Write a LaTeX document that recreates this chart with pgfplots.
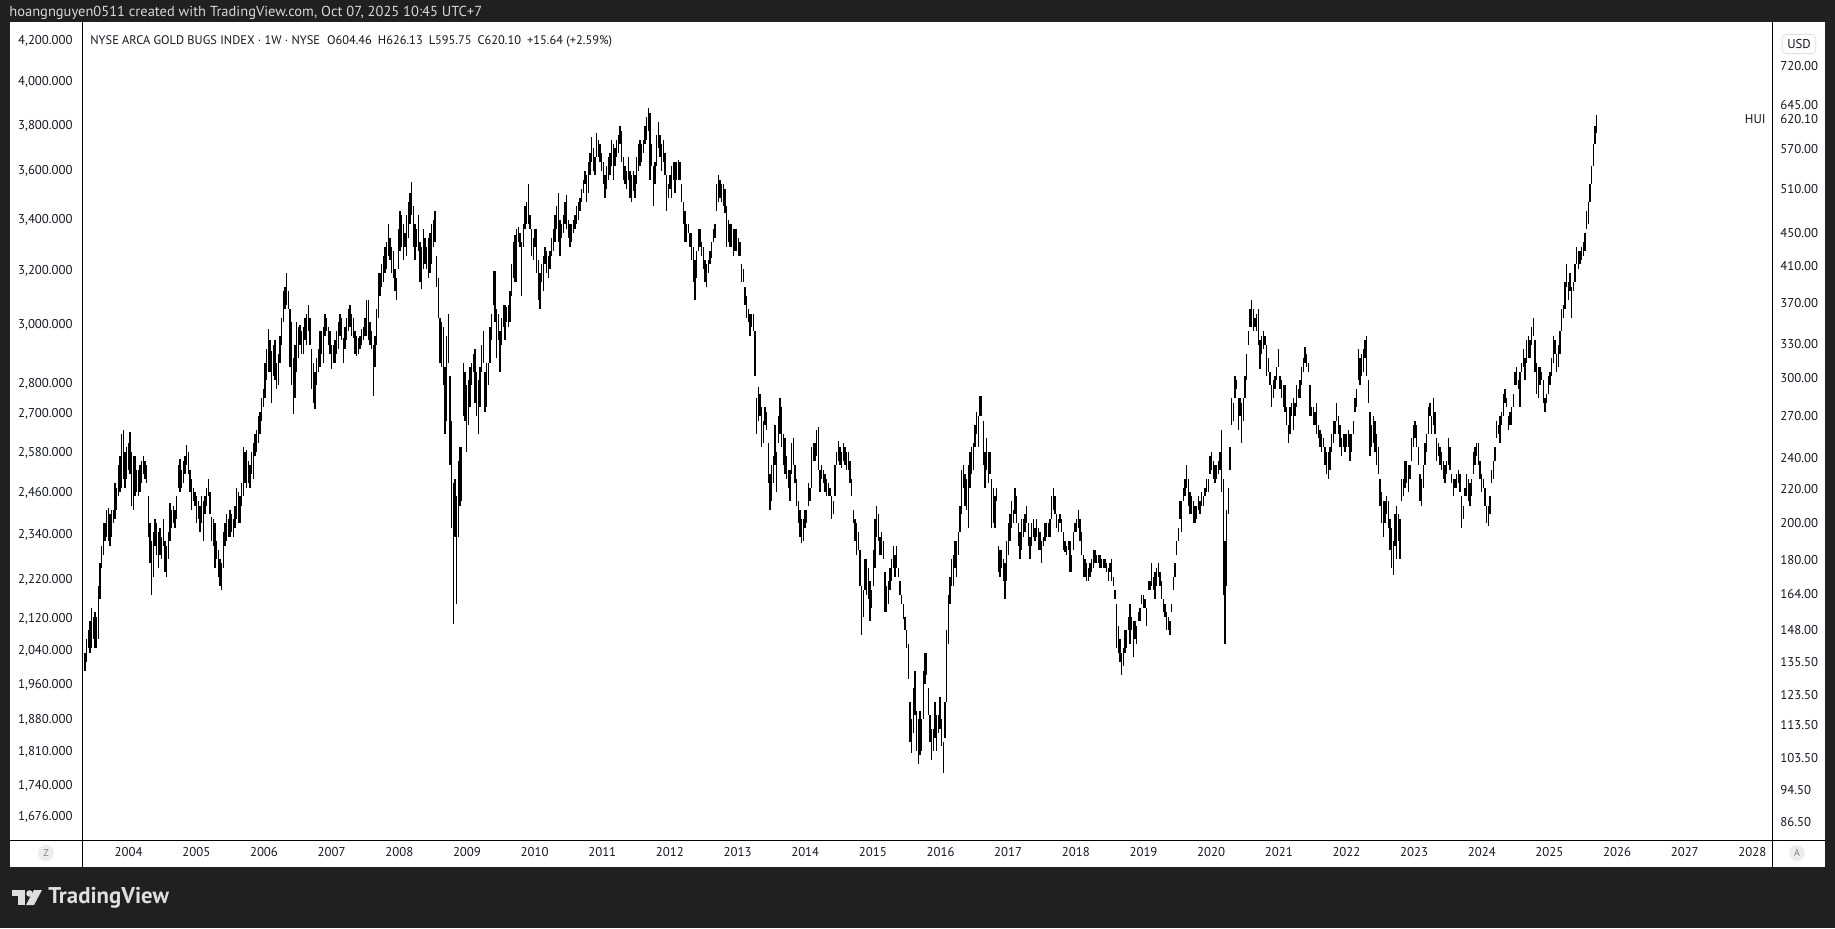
\documentclass[border=0pt]{standalone}
\usepackage{pgfplots}
\usepackage{pgfplotstable}
\pgfplotsset{compat=1.18}
\usepackage{fontspec}
\setmainfont{PT Sans}
\definecolor{frame}{RGB}{32,32,32}
\definecolor{txt}{RGB}{19,23,34}
\definecolor{hdr}{RGB}{215,215,215}
\definecolor{logo}{RGB}{222,222,222}
\newcommand{\tvf}{\fontsize{6.4}{7.5}\selectfont}
\pgfplotstableread{
t lo hi
2003.318 120.4 135.6
2003.354 132.2 139.0
2003.379 135.6 144.3
2003.403 140.8 148.0
2003.428 139.0 151.7
2003.452 140.8 157.5
2003.477 144.3 153.6
2003.502 140.8 155.6
2003.526 140.8 153.6
2003.551 144.3 167.7
2003.576 161.5 178.5
2003.600 176.2 187.6
2003.625 183.0 199.7
2003.649 190.0 199.7
2003.674 192.4 207.3
2003.699 190.0 208.6
2003.723 187.6 204.8
2003.748 192.4 207.3
2003.773 199.7 207.3
2003.797 202.2 223.5
2003.822 207.3 220.7
2003.847 215.3 234.9
2003.871 218.0 240.9
2003.896 220.7 256.5
2003.920 226.3 259.7
2003.945 220.7 243.9
2003.970 226.3 247.1
2003.994 232.0 250.2
2004.019 229.1 258.1
2004.044 209.9 243.9
2004.068 207.3 240.9
2004.093 215.3 240.9
2004.117 218.0 232.0
2004.142 215.3 232.0
2004.167 218.0 234.9
2004.191 223.5 237.9
2004.216 229.1 240.9
2004.241 226.3 237.9
2004.265 223.5 234.9
2004.290 192.4 215.3
2004.315 178.5 199.7
2004.339 163.5 190.0
2004.364 171.9 194.8
2004.389 187.6 202.2
2004.413 183.0 199.7
2004.438 176.2 194.8
2004.463 183.0 197.2
2004.487 180.7 192.4
2004.512 187.6 202.2
2004.536 174.1 190.0
2004.561 171.9 187.6
2004.586 180.7 194.8
2004.610 190.0 211.3
2004.635 197.2 207.3
2004.660 199.7 209.9
2004.684 197.2 207.3
2004.709 202.2 215.3
2004.734 220.7 234.9
2004.758 218.0 239.4
2004.783 220.7 232.0
2004.807 223.5 237.9
2004.832 229.1 240.9
2004.857 234.9 248.6
2004.881 229.1 243.9
2004.906 218.0 232.0
2004.931 207.3 226.3
2004.955 212.6 220.7
2004.980 209.9 218.0
2005.004 199.7 215.3
2005.029 202.2 212.6
2005.054 194.8 209.9
2005.078 199.7 215.3
2005.103 190.0 212.6
2005.128 204.8 215.3
2005.152 209.9 220.7
2005.177 215.3 226.3
2005.202 204.8 218.0
2005.226 190.0 203.5
2005.251 187.6 202.2
2005.275 176.2 199.7
2005.300 180.7 190.0
2005.325 171.9 185.3
2005.349 167.7 180.7
2005.374 165.6 178.5
2005.399 176.2 194.8
2005.423 187.6 199.7
2005.448 190.0 204.8
2005.473 192.4 202.2
2005.497 192.4 207.3
2005.522 194.8 204.8
2005.546 192.4 202.2
2005.571 197.2 209.9
2005.596 202.2 220.7
2005.620 199.7 218.0
2005.645 199.7 215.3
2005.670 209.9 223.5
2005.694 215.3 247.1
2005.719 223.5 243.9
2005.744 220.7 245.5
2005.768 223.5 237.9
2005.793 220.7 234.9
2005.817 229.1 243.9
2005.842 226.3 250.2
2005.867 240.9 256.5
2005.891 243.9 259.7
2005.916 250.2 269.7
2005.941 256.5 273.0
2005.965 266.3 283.5
2005.990 276.5 290.6
2006.014 283.5 313.3
2006.039 298.0 325.2
2006.064 305.5 344.1
2006.088 305.5 333.5
2006.113 279.9 323.2
2006.138 301.7 329.3
2006.162 298.0 333.5
2006.187 290.6 313.3
2006.212 294.3 321.2
2006.236 313.3 337.7
2006.261 329.3 355.0
2006.285 350.6 382.6
2006.310 364.0 387.4
2006.335 368.5 402.2
2006.359 364.0 382.6
2006.384 309.4 364.0
2006.409 294.3 350.6
2006.433 271.3 317.2
2006.458 283.5 329.3
2006.483 305.5 350.6
2006.507 317.2 346.2
2006.532 329.3 348.4
2006.556 321.2 341.9
2006.581 321.2 346.2
2006.606 333.5 355.0
2006.630 329.3 359.4
2006.655 341.9 368.5
2006.680 329.3 355.0
2006.704 290.6 325.2
2006.729 279.9 313.3
2006.754 274.7 305.5
2006.778 294.3 317.2
2006.803 305.5 325.2
2006.827 309.4 341.9
2006.852 321.2 341.9
2006.877 313.3 346.2
2006.901 337.7 359.4
2006.926 341.9 355.0
2006.951 329.3 346.2
2006.975 321.2 341.9
2007.000 307.5 329.3
2007.024 313.3 329.3
2007.049 313.3 333.5
2007.074 321.2 341.9
2007.098 325.2 350.6
2007.123 337.7 359.4
2007.148 333.5 355.0
2007.172 313.3 335.6
2007.197 325.2 346.2
2007.222 333.5 355.0
2007.246 341.9 364.0
2007.271 346.2 368.5
2007.296 337.7 359.4
2007.320 335.6 355.0
2007.345 321.2 341.9
2007.369 319.2 337.7
2007.394 321.2 335.6
2007.419 325.2 337.7
2007.443 329.3 344.1
2007.468 333.5 346.2
2007.493 337.7 355.0
2007.517 337.7 373.2
2007.542 333.5 373.2
2007.567 329.3 350.6
2007.591 325.2 341.9
2007.616 285.2 329.3
2007.640 309.4 337.7
2007.665 329.3 364.0
2007.690 355.0 402.2
2007.714 377.9 402.2
2007.739 387.4 412.4
2007.764 392.3 422.8
2007.788 402.2 433.5
2007.813 407.3 439.0
2007.838 422.8 461.5
2007.862 417.6 444.5
2007.887 402.2 433.5
2007.911 397.2 428.2
2007.936 382.6 407.3
2007.961 373.2 397.2
2007.985 407.3 455.7
2008.010 428.2 479.1
2008.035 433.5 473.1
2008.059 417.6 461.5
2008.084 433.5 450.1
2008.109 422.8 473.1
2008.133 444.5 491.2
2008.158 461.5 503.6
2008.182 473.1 519.6
2008.207 433.5 485.1
2008.232 417.6 461.5
2008.256 433.5 455.7
2008.281 428.2 473.1
2008.306 392.3 439.0
2008.330 384.9 433.5
2008.355 407.3 455.7
2008.379 412.4 444.5
2008.404 407.3 433.5
2008.429 397.2 444.5
2008.453 402.2 450.1
2008.478 412.4 461.5
2008.503 433.5 467.3
2008.527 439.0 479.1
2008.552 387.4 422.8
2008.576 355.0 397.2
2008.601 313.3 355.0
2008.626 309.4 350.6
2008.650 294.3 346.2
2008.675 256.5 309.4
2008.700 266.3 337.7
2008.724 313.3 359.4
2008.749 234.9 301.7
2008.773 197.2 266.3
2008.798 150.7 223.5
2008.823 192.4 226.3
2008.847 159.5 215.3
2008.872 192.4 237.9
2008.897 209.9 247.1
2008.921 212.6 247.1
2008.946 269.7 313.3
2008.970 266.3 305.5
2008.995 243.9 294.3
2009.020 263.0 298.0
2009.044 276.5 309.4
2009.069 294.3 313.3
2009.094 305.5 321.2
2009.118 279.9 325.2
2009.143 269.7 305.5
2009.167 256.5 298.0
2009.192 276.5 309.4
2009.217 305.5 329.3
2009.241 313.3 341.9
2009.266 273.0 305.5
2009.291 276.5 313.3
2009.315 294.3 313.3
2009.340 313.3 346.2
2009.365 333.5 359.4
2009.389 368.5 404.7
2009.414 350.6 404.7
2009.438 317.2 364.0
2009.463 333.5 359.4
2009.488 305.5 341.9
2009.512 329.3 355.0
2009.537 346.2 368.5
2009.562 333.5 368.5
2009.586 350.6 366.3
2009.611 346.2 368.5
2009.635 350.6 382.6
2009.660 377.9 412.4
2009.685 397.2 439.0
2009.709 392.3 447.3
2009.734 392.3 455.7
2009.759 439.0 458.6
2009.783 433.5 450.1
2009.808 377.9 439.0
2009.833 433.5 461.5
2009.857 455.7 485.1
2009.882 461.5 491.2
2009.906 461.5 516.4
2009.931 455.7 473.1
2009.956 422.8 455.7
2009.980 417.6 444.5
2010.005 433.5 455.7
2010.030 402.2 455.7
2010.054 373.2 417.6
2010.079 364.0 402.2
2010.103 392.3 412.4
2010.128 382.6 422.8
2010.153 412.4 433.5
2010.177 402.2 428.2
2010.202 397.2 422.8
2010.227 407.3 428.2
2010.251 422.8 444.5
2010.276 428.2 455.7
2010.300 439.0 473.1
2010.325 455.7 485.1
2010.350 439.0 503.6
2010.374 422.8 467.3
2010.399 444.5 461.5
2010.424 450.1 473.1
2010.448 461.5 491.2
2010.473 455.7 500.5
2010.498 444.5 467.3
2010.522 433.5 461.5
2010.547 439.0 461.5
2010.571 450.1 467.3
2010.596 455.7 473.1
2010.621 461.5 485.1
2010.645 467.3 491.2
2010.670 479.1 497.4
2010.695 491.2 510.0
2010.719 503.6 522.9
2010.744 516.4 536.1
2010.768 491.2 529.4
2010.793 503.6 549.7
2010.818 529.4 563.6
2010.842 549.7 588.8
2010.867 536.1 570.7
2010.892 529.4 556.6
2010.916 556.6 596.2
2010.941 556.6 585.1
2010.965 549.7 577.8
2010.990 536.1 563.6
2011.015 516.4 549.7
2011.039 497.4 529.4
2011.064 510.0 542.8
2011.089 522.9 556.6
2011.113 529.4 563.6
2011.138 542.8 585.1
2011.163 522.9 577.8
2011.187 542.8 570.7
2011.212 556.6 585.1
2011.236 563.6 592.5
2011.261 577.8 607.5
2011.286 549.7 599.9
2011.310 522.9 556.6
2011.335 516.4 542.8
2011.360 510.0 536.1
2011.384 522.9 556.6
2011.409 497.4 536.1
2011.433 491.2 529.4
2011.458 506.8 536.1
2011.483 497.4 529.4
2011.507 516.4 556.6
2011.532 536.1 577.8
2011.557 542.8 585.1
2011.581 549.7 577.8
2011.606 563.6 585.1
2011.631 577.8 607.5
2011.655 585.1 622.8
2011.680 599.9 638.6
2011.704 522.9 630.7
2011.729 542.8 577.8
2011.754 485.1 542.8
2011.778 516.4 549.7
2011.803 542.8 592.5
2011.828 570.7 615.1
2011.852 556.6 592.5
2011.877 536.1 577.8
2011.901 549.7 585.1
2011.926 529.4 563.6
2011.951 479.1 529.4
2011.975 497.4 516.4
2012.000 510.0 529.4
2012.025 497.4 542.8
2012.049 522.9 549.7
2012.074 503.6 549.7
2012.099 522.9 549.7
2012.123 522.9 553.1
2012.148 522.9 549.7
2012.172 491.2 516.4
2012.197 461.5 491.2
2012.222 439.0 479.1
2012.246 439.0 461.5
2012.271 450.1 461.5
2012.296 433.5 450.1
2012.320 417.6 450.1
2012.345 392.3 433.5
2012.369 373.2 417.6
2012.394 397.2 428.2
2012.419 428.2 455.7
2012.443 433.5 455.7
2012.468 422.8 439.0
2012.493 407.3 433.5
2012.517 392.3 417.6
2012.542 387.4 412.4
2012.567 402.2 417.6
2012.591 412.4 428.2
2012.616 420.2 439.0
2012.640 439.0 455.7
2012.665 444.5 461.5
2012.690 479.1 516.4
2012.714 491.2 529.4
2012.741 497.4 522.9
2012.766 491.2 516.4
2012.790 485.1 516.4
2012.815 476.1 510.0
2012.840 433.5 485.1
2012.864 439.0 467.3
2012.889 433.5 461.5
2012.913 433.5 461.5
2012.938 422.8 455.7
2012.963 428.2 455.7
2012.987 428.2 455.7
2013.012 422.8 444.5
2013.037 422.8 439.0
2013.061 392.3 412.4
2013.086 392.3 407.3
2013.110 368.5 387.4
2013.135 355.0 377.9
2013.160 350.6 364.0
2013.184 337.7 359.4
2013.209 346.2 359.4
2013.234 341.9 359.4
2013.258 301.7 341.9
2013.283 256.5 283.5
2013.307 266.3 292.5
2013.332 269.7 287.0
2013.357 247.1 276.5
2013.381 250.2 266.3
2013.406 263.0 276.5
2013.431 259.7 273.0
2013.455 223.5 250.2
2013.480 207.3 229.1
2013.505 212.6 234.9
2013.529 223.5 240.9
2013.554 234.9 263.0
2013.578 218.0 243.9
2013.603 250.2 269.7
2013.628 256.5 283.5
2013.652 247.1 276.5
2013.677 234.9 256.5
2013.702 229.1 253.3
2013.726 226.3 240.9
2013.751 220.7 232.0
2013.775 212.6 232.0
2013.800 229.1 250.2
2013.825 234.9 253.3
2013.849 223.5 234.9
2013.874 209.9 226.3
2013.899 199.7 212.6
2013.923 192.4 207.3
2013.948 188.8 202.2
2013.972 190.0 202.2
2013.997 197.2 207.3
2014.022 199.7 207.3
2014.046 209.9 223.5
2014.071 212.6 220.7
2014.096 220.7 247.1
2014.120 237.9 250.2
2014.145 237.9 250.2
2014.169 240.9 259.7
2014.194 232.0 261.3
2014.219 218.0 232.0
2014.243 226.3 234.9
2014.268 223.5 232.0
2014.293 218.0 229.1
2014.317 215.3 226.3
2014.342 215.3 223.5
2014.366 215.3 220.7
2014.391 202.2 215.3
2014.416 204.8 212.6
2014.440 215.3 234.9
2014.465 234.9 243.9
2014.490 237.9 251.7
2014.514 234.9 247.1
2014.539 233.4 243.9
2014.563 237.9 250.2
2014.588 234.9 247.1
2014.613 232.0 243.9
2014.637 232.0 243.9
2014.662 223.5 237.9
2014.687 215.3 226.3
2014.711 199.7 207.3
2014.736 190.0 202.2
2014.760 183.0 199.7
2014.785 185.3 194.8
2014.810 167.7 185.3
2014.834 146.1 167.7
2014.859 153.6 165.6
2014.884 165.6 180.7
2014.908 163.5 180.7
2014.933 161.5 176.2
2014.957 151.7 169.8
2014.982 157.5 165.6
2015.007 167.7 185.3
2015.031 176.2 202.2
2015.056 192.4 209.9
2015.081 190.0 204.8
2015.105 183.0 192.4
2015.130 183.0 194.8
2015.154 180.7 190.0
2015.179 155.6 174.1
2015.204 155.6 167.7
2015.228 159.5 169.8
2015.253 165.6 176.2
2015.278 169.8 180.7
2015.302 176.2 187.6
2015.327 171.9 183.0
2015.351 176.2 187.6
2015.376 171.9 176.2
2015.401 163.5 169.8
2015.425 159.5 163.5
2015.450 152.6 159.5
2015.475 148.0 153.6
2015.499 140.8 148.0
2015.524 129.0 142.5
2015.548 108.3 121.2
2015.573 105.0 115.3
2015.598 111.0 125.8
2015.622 116.7 132.2
2015.647 105.6 118.2
2015.672 101.7 115.3
2015.696 104.3 118.2
2015.721 105.6 115.3
2015.745 115.3 132.2
2015.770 127.4 139.0
2015.795 130.6 139.0
2015.819 116.7 125.8
2015.844 108.3 116.7
2015.869 103.0 112.4
2015.893 105.6 112.4
2015.918 109.6 121.2
2015.942 105.6 116.7
2015.967 111.0 116.7
2015.992 112.4 122.7
2016.016 106.9 115.3
2016.041 99.2 108.3
2016.066 109.6 121.2
2016.090 121.2 148.0
2016.115 142.5 163.5
2016.139 159.5 171.9
2016.164 167.7 180.7
2016.189 167.7 183.0
2016.213 176.2 190.0
2016.238 171.9 190.0
2016.263 183.0 194.8
2016.287 194.8 209.9
2016.312 204.8 232.0
2016.336 220.7 234.9
2016.361 209.9 229.1
2016.386 207.3 226.3
2016.410 197.2 234.9
2016.435 220.7 243.9
2016.460 229.1 247.1
2016.484 232.0 250.2
2016.509 247.1 263.0
2016.533 256.5 273.0
2016.558 247.1 269.7
2016.583 269.7 285.2
2016.607 269.7 285.2
2016.632 234.9 266.3
2016.657 220.7 243.9
2016.681 232.0 253.3
2016.706 223.5 243.9
2016.730 229.1 243.9
2016.755 197.2 226.3
2016.780 199.7 220.7
2016.804 197.2 215.3
2016.829 212.6 220.7
2016.854 174.1 187.6
2016.878 171.9 185.3
2016.903 176.2 185.3
2016.927 169.8 180.7
2016.952 161.5 178.5
2016.977 169.8 190.0
2017.001 183.0 199.7
2017.026 190.0 204.8
2017.051 197.2 212.6
2017.075 199.7 207.3
2017.100 204.8 220.7
2017.124 199.7 215.3
2017.149 187.6 199.7
2017.174 180.7 194.8
2017.198 185.3 202.2
2017.223 192.4 202.2
2017.248 194.8 204.8
2017.272 199.7 209.9
2017.297 187.6 199.7
2017.321 180.7 192.4
2017.346 187.6 199.7
2017.371 192.4 202.2
2017.395 190.0 197.2
2017.420 192.4 202.2
2017.445 185.3 197.2
2017.471 185.3 194.8
2017.496 178.5 190.0
2017.520 187.6 192.4
2017.545 190.0 199.7
2017.570 192.4 199.7
2017.594 192.4 199.7
2017.619 192.4 202.2
2017.643 202.2 215.3
2017.668 207.3 220.7
2017.693 204.8 215.3
2017.717 197.2 204.8
2017.742 194.8 202.2
2017.767 199.7 204.8
2017.791 194.8 202.2
2017.816 185.3 194.8
2017.840 184.1 190.0
2017.865 183.0 187.6
2017.890 185.3 190.0
2017.914 174.1 190.0
2017.939 174.1 183.0
2017.964 185.3 194.8
2017.988 194.8 199.7
2018.013 194.8 202.2
2018.037 197.2 207.3
2018.062 190.0 202.2
2018.087 183.0 194.8
2018.111 171.9 183.0
2018.136 171.9 180.7
2018.161 169.8 178.5
2018.185 169.8 176.2
2018.210 171.9 178.5
2018.234 174.1 180.7
2018.259 176.2 185.3
2018.284 178.5 185.3
2018.308 178.5 183.0
2018.333 178.5 183.0
2018.358 176.2 183.0
2018.382 176.2 180.7
2018.407 176.2 180.7
2018.431 176.2 180.7
2018.456 174.1 178.5
2018.481 169.8 176.2
2018.505 174.1 178.5
2018.530 169.8 180.7
2018.554 167.7 171.9
2018.579 161.5 165.6
2018.604 140.8 159.5
2018.628 139.0 149.8
2018.653 135.6 144.3
2018.678 130.6 139.0
2018.702 133.9 140.8
2018.727 139.0 148.0
2018.751 140.8 148.0
2018.776 148.0 153.6
2018.801 142.5 159.5
2018.825 148.0 153.6
2018.850 137.3 151.7
2018.875 144.3 151.7
2018.899 142.5 149.8
2018.924 151.7 155.6
2018.948 151.7 157.5
2018.973 159.5 163.5
2018.998 157.5 163.5
2019.022 157.5 161.5
2019.047 149.8 157.5
2019.072 165.6 169.8
2019.096 165.6 169.8
2019.121 167.7 178.5
2019.145 165.6 171.9
2019.170 161.5 174.1
2019.195 167.7 176.2
2019.219 171.9 178.5
2019.244 167.7 174.1
2019.268 161.5 169.8
2019.293 155.6 161.5
2019.318 153.6 159.5
2019.342 148.0 155.6
2019.367 148.0 153.6
2019.392 146.1 151.7
2019.416 155.6 159.5
2019.441 165.6 171.9
2019.465 171.9 178.5
2019.490 183.0 190.0
2019.515 190.0 197.2
2019.539 202.2 212.6
2019.564 194.8 212.6
2019.589 212.6 220.7
2019.613 215.3 226.3
2019.638 220.7 234.9
2019.662 209.9 226.3
2019.687 204.8 218.0
2019.712 204.8 215.3
2019.736 199.7 212.6
2019.761 199.7 209.9
2019.786 202.2 209.9
2019.810 207.3 215.3
2019.835 204.8 212.6
2019.859 209.9 218.0
2019.884 209.9 215.3
2019.909 215.3 220.7
2019.933 218.0 226.3
2019.958 218.0 226.3
2019.983 229.1 240.9
2020.007 232.0 243.9
2020.032 226.3 237.9
2020.056 223.5 234.9
2020.081 226.3 234.9
2020.106 229.1 237.9
2020.130 232.0 243.9
2020.155 218.0 259.7
2020.180 163.5 226.3
2020.204 142.5 190.0
2020.229 167.7 207.3
2020.253 204.8 220.7
2020.278 232.0 247.1
2020.303 263.0 283.5
2020.327 266.3 279.9
2020.352 283.5 301.7
2020.377 290.6 298.0
2020.401 259.7 283.5
2020.426 269.7 283.5
2020.450 250.2 279.9
2020.475 266.3 283.5
2020.500 283.5 301.7
2020.524 298.0 321.2
2020.549 329.3 341.9
2020.573 346.2 364.0
2020.598 346.2 373.2
2020.623 341.9 364.0
2020.647 346.2 355.0
2020.672 341.9 359.4
2020.697 329.3 364.0
2020.721 307.5 333.5
2020.746 321.2 337.7
2020.770 325.2 341.9
2020.795 329.3 337.7
2020.820 301.7 329.3
2020.844 305.5 317.2
2020.869 294.3 305.5
2020.894 276.5 294.3
2020.918 283.5 298.0
2020.943 290.6 301.7
2020.967 298.0 309.4
2020.992 309.4 325.2
2021.017 290.6 301.7
2021.041 283.5 298.0
2021.066 276.5 294.3
2021.091 273.0 294.3
2021.115 263.0 276.5
2021.140 250.2 263.0
2021.164 256.5 276.5
2021.189 269.7 279.9
2021.214 259.7 283.5
2021.238 269.7 279.9
2021.263 276.5 294.3
2021.288 283.5 290.6
2021.312 283.5 298.0
2021.337 294.3 309.4
2021.361 305.5 317.2
2021.386 313.3 327.3
2021.411 309.4 321.2
2021.435 305.5 313.3
2021.460 269.7 294.3
2021.484 269.7 276.5
2021.509 263.0 276.5
2021.534 263.0 273.0
2021.558 256.5 279.9
2021.583 253.3 263.0
2021.608 247.1 259.7
2021.632 243.9 256.5
2021.657 247.1 253.3
2021.681 234.9 247.1
2021.706 229.1 243.9
2021.731 226.3 243.9
2021.755 232.0 247.1
2021.780 243.9 256.5
2021.805 250.2 266.3
2021.829 256.5 266.3
2021.854 266.3 279.9
2021.878 256.5 269.7
2021.903 247.1 263.0
2021.928 240.9 253.3
2021.952 247.1 256.5
2021.977 243.9 256.5
2022.001 247.1 256.5
2022.026 247.1 259.7
2022.051 237.9 256.5
2022.075 243.9 256.5
2022.100 256.5 266.3
2022.125 273.0 283.5
2022.149 276.5 290.6
2022.174 298.0 325.2
2022.201 294.3 317.2
2022.226 301.7 321.2
2022.250 305.5 325.2
2022.275 317.2 333.5
2022.299 301.7 337.7
2022.324 279.9 298.0
2022.349 240.9 273.0
2022.373 247.1 263.0
2022.398 250.2 269.7
2022.423 243.9 266.3
2022.447 234.9 256.5
2022.472 229.1 247.1
2022.496 209.9 226.3
2022.521 199.7 218.0
2022.546 192.4 212.6
2022.570 199.7 212.6
2022.595 204.8 215.3
2022.620 197.2 212.6
2022.644 185.3 202.2
2022.669 176.2 197.2
2022.693 173.0 190.0
2022.718 187.6 204.8
2022.743 180.7 209.9
2022.767 190.0 204.8
2022.792 180.7 202.2
2022.817 212.6 226.3
2022.841 215.3 226.3
2022.866 220.7 237.9
2022.890 223.5 237.9
2022.915 218.0 234.9
2022.940 226.3 234.9
2022.964 237.9 253.3
2022.989 247.1 263.0
2023.013 253.3 266.3
2023.038 247.1 263.0
2023.063 234.9 247.1
2023.087 212.6 229.1
2023.112 209.9 226.3
2023.137 220.7 234.9
2023.161 234.9 250.2
2023.186 243.9 256.5
2023.210 256.5 276.5
2023.235 269.7 279.9
2023.260 256.5 269.7
2023.284 263.0 283.5
2023.309 256.5 273.0
2023.334 237.9 253.3
2023.358 240.9 250.2
2023.383 234.9 247.1
2023.407 232.0 243.9
2023.432 226.3 237.9
2023.457 223.5 234.9
2023.481 229.1 237.9
2023.506 234.9 253.3
2023.530 232.0 247.1
2023.555 223.5 229.1
2023.580 215.3 226.3
2023.604 220.7 226.3
2023.629 220.7 229.1
2023.654 223.5 232.0
2023.678 218.0 229.1
2023.703 197.2 215.3
2023.727 202.2 209.9
2023.752 215.3 220.7
2023.777 215.3 229.1
2023.801 212.6 226.3
2023.826 209.9 223.5
2023.851 215.3 226.3
2023.875 229.1 243.9
2023.900 234.9 247.1
2023.924 240.9 250.2
2023.949 234.9 250.2
2023.974 226.3 237.9
2023.998 218.0 229.1
2024.023 220.7 226.3
2024.047 209.9 220.7
2024.072 199.7 209.9
2024.097 198.5 209.9
2024.121 204.8 215.3
2024.146 223.5 232.0
2024.171 226.3 237.9
2024.195 237.9 247.1
2024.220 253.3 266.3
2024.244 256.5 263.0
2024.269 250.2 269.7
2024.294 263.0 273.0
2024.318 269.7 287.0
2024.343 279.9 290.6
2024.367 276.5 283.5
2024.392 259.7 269.7
2024.417 263.0 273.0
2024.441 263.0 276.5
2024.466 276.5 287.0
2024.491 294.3 305.5
2024.515 294.3 309.4
2024.540 290.6 298.0
2024.564 276.5 305.5
2024.589 305.5 313.3
2024.614 309.4 325.2
2024.638 298.0 317.2
2024.663 313.3 333.5
2024.688 317.2 337.7
2024.712 317.2 333.5
2024.737 329.3 346.2
2024.761 337.7 355.0
2024.786 305.5 333.5
2024.811 287.0 313.3
2024.835 283.5 309.4
2024.860 294.3 309.4
2024.884 298.0 305.5
2024.909 279.9 298.0
2024.934 273.0 283.5
2024.958 279.9 287.0
2024.983 287.0 301.7
2025.008 294.3 305.5
2025.032 301.7 317.2
2025.057 313.3 337.7
2025.081 321.2 333.5
2025.106 305.5 321.2
2025.131 309.4 329.3
2025.155 321.2 341.9
2025.180 341.9 364.0
2025.204 355.0 368.5
2025.229 364.0 392.3
2025.254 387.4 412.4
2025.278 373.2 392.3
2025.303 382.6 402.2
2025.328 355.0 387.4
2025.352 382.6 392.3
2025.377 392.3 412.4
2025.401 412.4 433.5
2025.426 407.3 428.2
2025.451 412.4 428.2
2025.475 417.6 433.5
2025.500 422.8 439.0
2025.525 428.2 450.1
2025.549 455.7 479.1
2025.574 461.5 491.2
2025.598 491.2 516.4
2025.623 516.4 542.8
2025.648 542.8 577.8
2025.672 577.8 607.5
2025.697 595.75 626.13
}\bars
\begin{document}
\begin{tikzpicture}
\begin{scope}[x=0.5pt,y=-0.5pt]
\fill[frame] (0,0) rectangle (1835,928);
\fill[white] (10,22) rectangle (1825,867);
\node[anchor=west, text=hdr, font=\fontsize{7.25}{8.5}\selectfont, inner sep=0pt] at (9,13) {hoangnguyen0511 created with TradingView.com, Oct 07, 2025 10:45 UTC+7};
\end{scope}

\begin{axis}[at={(41pt,-420pt)}, anchor=south west, width=845pt, height=409pt, scale only axis,
  xmin=2003.31, xmax=2028.29, ymode=log, ymin=82.25, ymax=813.3,
  axis line style={draw=none}, major tick length=0pt, minor tick length=0pt,
  xtick={2004,2005,2006,2007,2008,2009,2010,2011,2012,2013,2014,2015,2016,2017,2018,2019,2020,2021,2022,2023,2024,2025,2026,2027,2028},
  xticklabels={2004,2005,2006,2007,2008,2009,2010,2011,2012,2013,2014,2015,2016,2017,2018,2019,2020,2021,2022,2023,2024,2025,2026,2027,2028},
  xticklabel style={font=\tvf, text=txt, anchor=center, inner sep=0pt, yshift=-6pt},
  ytick={86.5,94.5,103.5,113.5,123.5,135.5,148,164,180,200,220,240,270,300,330,370,410,450,510,570,620.1,645,720},
  yticklabels={86.50,94.50,103.50,113.50,123.50,135.50,148.00,164.00,180.00,200.00,220.00,240.00,270.00,300.00,330.00,370.00,410.00,450.00,510.00,570.00,620.10,645.00,720.00},
  yticklabel pos=right,
  yticklabel style={font=\tvf, text=txt, anchor=west, inner sep=0pt, xshift=4pt},
  minor ytick={},
]
\addplot[ycomb, black, line width=0.64pt, mark=none] table[x=t, y=hi] {\bars};
\addplot[ycomb, white, line width=0.66pt, mark=none] table[x=t, y=lo] {\bars};
\end{axis}

\begin{axis}[at={(41pt,-420pt)}, anchor=south west, width=845pt, height=409pt, scale only axis,
  xmin=0, xmax=1, ymode=log, ymin=1631.5, ymax=4295.5, hide x axis,
  axis line style={draw=none}, major tick length=0pt, minor tick length=0pt,
  ytick={1676,1740,1810,1880,1960,2040,2120,2220,2340,2460,2580,2700,2800,3000,3200,3400,3600,3800,4000,4200},
  yticklabels={{1,676.000},{1,740.000},{1,810.000},{1,880.000},{1,960.000},{2,040.000},{2,120.000},{2,220.000},{2,340.000},{2,460.000},{2,580.000},{2,700.000},{2,800.000},{3,000.000},{3,200.000},{3,400.000},{3,600.000},{3,800.000},{4,000.000},{4,200.000}},
  yticklabel pos=left,
  yticklabel style={font=\tvf, text=txt, anchor=east, inner sep=0pt, xshift=-4.5pt},
  minor ytick={},
]
\addplot[draw=none, mark=none] coordinates {(0.5,2000)};
\end{axis}

\begin{scope}[x=0.5pt,y=-0.5pt]
\draw[black, line width=0.5pt] (82,22) -- (82,867);
\draw[black, line width=0.5pt] (1772,22) -- (1772,867);
\draw[black, line width=0.5pt] (10,840) -- (1825,840);
\node[anchor=west, text=txt, font=\fontsize{6.2}{7.5}\selectfont, inner sep=0pt] at (90,41) {NYSE ARCA GOLD BUGS INDEX · 1W · NYSE\hspace{3.5pt}O604.46\hspace{3pt}H626.13\hspace{3pt}L595.75\hspace{3pt}C620.10\hspace{3pt}+15.64 (+2.59\%)};
\node[anchor=east, text=txt, font=\tvf, inner sep=0pt] at (1766,119) {HUI};
\node[draw=black!12, fill=white, rounded corners=2pt, text=txt, font=\tvf, inner sep=2.5pt, minimum height=9pt] at (1799,44) {USD};
\fill[black!7] (46,853) circle (8);
\node[text=black!50, font=\fontsize{5}{6}\selectfont, inner sep=0pt] at (46,853) {Z};
\fill[black!7] (1797,853) circle (8);
\node[text=black!50, font=\fontsize{5}{6}\selectfont, inner sep=0pt] at (1797,853) {A};
\fill[logo] (12,890) rectangle (25,896);
\fill[logo] (18,890) rectangle (25,905);
\fill[logo] (29.5,893.5) circle (3.3);
\fill[logo] (34,890) -- (42,890) -- (34,905) -- (26,905) -- cycle;
\node[anchor=west, text=logo, font=\fontsize{11.4}{13}\selectfont\bfseries, inner sep=0pt] at (48,898) {TradingView};
\end{scope}
\end{tikzpicture}
\end{document}
